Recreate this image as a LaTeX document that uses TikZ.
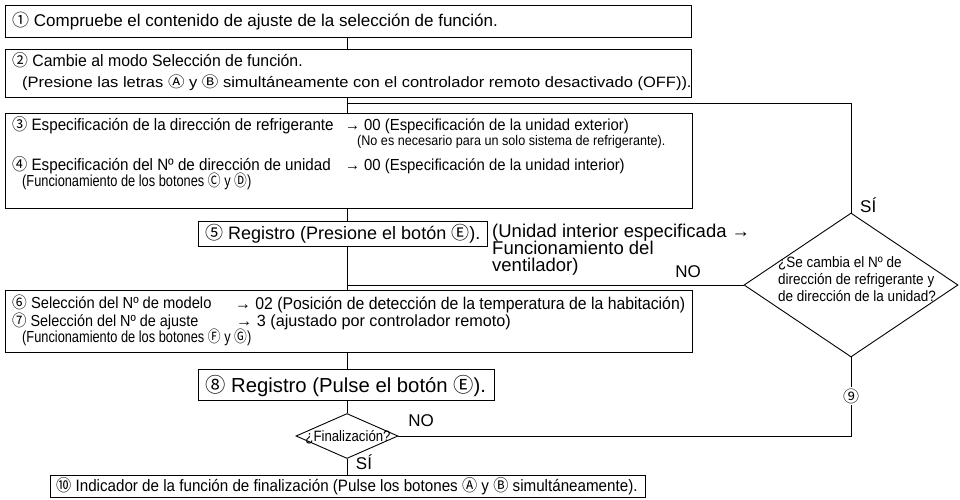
\documentclass[tikz,border=0pt]{standalone}
\usepackage{fontspec}
\usepackage{graphicx}
\setmainfont{Liberation Sans}
\newfontfamily\cnfont{Noto Sans CJK JP}
\usetikzlibrary{shapes.geometric}
\newcommand{\cn}[1]{{\cnfont #1}}
\newcommand{\fsz}[1]{\fontsize{#1}{#1}\selectfont}
\newcommand{\hs}[2]{\scalebox{#1}[1]{#2}}
\begin{document}
\begin{tikzpicture}[x=1pt,y=-1pt,
  box/.style={draw, line width=0.9pt, inner sep=0pt, anchor=north west},
  t/.style={inner sep=0pt, anchor=base west, font=\fsz{15.5}},
  ln/.style={line width=0.9pt},
  lbl/.style={inner sep=0pt, font=\fsz{17}}]
\useasboundingbox (0,0) rectangle (960,500);
\coordinate (sp) at (347,0);
% boxes
\node[box, minimum width=686pt, minimum height=32pt] (b1) at (5,5) {};
\node[box, minimum width=686pt, minimum height=48pt] (b2) at (5,49) {};
\node[box, minimum width=687pt, minimum height=95pt] (b3) at (5,113) {};
\node[box, minimum width=289pt, minimum height=25pt] (b5) at (198,221) {};
\node[box, minimum width=687pt, minimum height=62pt] (b6) at (5,290) {};
\node[box, minimum width=296pt, minimum height=31pt] (b8) at (198,369) {};
\node[box, minimum width=595pt, minimum height=22pt] (b10) at (50,475) {};
\node[draw, diamond, line width=0.9pt, inner sep=0pt, minimum width=214pt, minimum height=144pt] (dia) at (851,285) {};
\node[draw, diamond, line width=0.9pt, inner sep=0pt, minimum width=102pt, minimum height=45pt] (fin) at (347,436) {};
% texts
\node[t, font=\fsz{17}] (x1) at (12,27) {\cn{①} Compruebe el contenido de ajuste de la selección de función.};
\node[t, font=\fsz{16.5}] (x2a) at (12,67) {\hs{0.96}{\cn{②} Cambie al modo Selección de función.}};
\node[t, font=\fsz{15}] (x2b) at (22,87.5) {\hs{1.1}{(Presione las letras \cn{Ⓐ} y \cn{Ⓑ} simultáneamente con el controlador remoto desactivado (OFF)).}};
\node[t, font=\fsz{16.5}] (x3a) at (12,130) {\hs{0.92}{\cn{③} Especificación de la dirección de refrigerante}};
\node[t, font=\fsz{16}] (x3b) at (345,130) {\hs{0.93}{→ 00 (Especificación de la unidad exterior)}};
\node[t, font=\fsz{14}] (x3c) at (357,145.5) {\hs{0.9}{(No es necesario para un solo sistema de refrigerante).}};
\node[t, font=\fsz{16.5}] (x4a) at (12,170) {\hs{0.92}{\cn{④} Especificación del Nº de dirección de unidad}};
\node[t, font=\fsz{16}] (x4b) at (345,170) {\hs{0.93}{→ 00 (Especificación de la unidad interior)}};
\node[t, font=\fsz{16}] (x4c) at (22,186) {\hs{0.8}{(Funcionamiento de los botones \cn{Ⓒ} y \cn{Ⓓ})}};
\node[t, font=\fsz{18}] (x5) at (205,239.5) {\cn{⑤} Registro (Presione el botón \cn{Ⓔ}).};
\node[t, font=\fsz{18.5}] (x5n) at (492,237.5) {(Unidad interior especificada →};
\node[t, font=\fsz{18.5}] (x5m) at (492,254.5) {Funcionamiento del};
\node[t, font=\fsz{18.5}] (x5o) at (492,271.5) {ventilador)};
\node[t, font=\fsz{16}] (x6a) at (12,308.5) {\hs{0.92}{\cn{⑥} Selección del Nº de modelo}};
\node[t, font=\fsz{17}] (x6b) at (235,309.5) {\hs{0.93}{→ 02 (Posición de detección de la temperatura de la habitación)}};
\node[t, font=\fsz{16}] (x7a) at (12,326.5) {\hs{0.9}{\cn{⑦} Selección del Nº de ajuste}};
\node[t, font=\fsz{16.2}] (x7b) at (236,326.5) {→ 3 (ajustado por controlador remoto)};
\node[t, font=\fsz{16}] (x7c) at (22,342.5) {\hs{0.8}{(Funcionamiento de los botones \cn{Ⓕ} y \cn{Ⓖ})}};
\node[t, font=\fsz{20.3}] (x8) at (205,392) {\cn{⑧} Registro (Pulse el botón \cn{Ⓔ}).};
\node[inner sep=0pt, font=\fsz{15}] (xfin) at (348,437) {\hs{0.88}{¿Finalización?}};
\node[t, font=\fsz{16.5}] (x10) at (56,491.5) {\hs{0.92}{\cn{⑩} Indicador de la función de finalización (Pulse los botones \cn{Ⓐ} y \cn{Ⓑ} simultáneamente).}};
\node[inner sep=0pt, font=\fontsize{15}{17}\selectfont] (xdia) at (857,281) {\hs{0.9}{\begin{tabular}{@{}l@{}}¿Se cambia el Nº de\\dirección de refrigerante y\\de dirección de la unidad?\end{tabular}}};
% labels
\node[lbl, anchor=west] (lsi1) at (860,205) {SÍ};
\node[lbl] (lno1) at (688,272) {NO};
\node[lbl] (lno2) at (421,421) {NO};
\node[lbl] (lsi2) at (364,462) {SÍ};
\node[inner sep=1pt, font=\cnfont\fsz{16}] (n9) at (851,396) {⑨};
% connectors
\coordinate (j1) at (347,103);
\draw[ln] (b1.south -| sp) -- (b2.north -| sp);
\draw[ln] (b2.south -| sp) -- (b3.north -| sp);
\draw[ln] (j1) -| (dia.north);
\draw[ln] (b3.south -| sp) -- (b5.north -| sp);
\draw[ln] (b5.south -| sp) -- (b6.north -| sp);
\draw[ln] (dia.west) -- (dia.west -| sp);
\draw[ln] (b6.south -| sp) -- (b8.north -| sp);
\draw[ln] (b8.south -| sp) -- (fin.north);
\draw[ln] (fin.south) -- (b10.north -| sp);
\draw[ln] (fin.east) -| (n9.south);
\draw[ln] (n9.north) -- (dia.south);
\end{tikzpicture}
\end{document}
